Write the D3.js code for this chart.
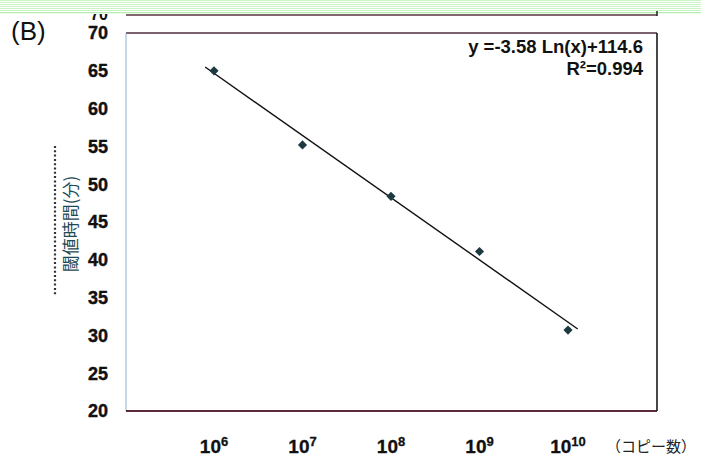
<!DOCTYPE html>
<html><head><meta charset="utf-8">
<script src="https://cdn.jsdelivr.net/npm/d3@7/dist/d3.min.js"></script>
<style>html,body{margin:0;padding:0;background:#fff;}svg{display:block;}</style>
</head><body>
<svg id="c" width="701" height="457"></svg>
<script>
const copyExponents = [6, 7, 8, 9, 10];
const thresholdTimes = [65.0, 55.2, 48.4, 41.1, 30.7];
const yTicks = [20, 25, 30, 35, 40, 45, 50, 55, 60, 65, 70];
const fitExponents = [5.9, 10.11];
const fitTimes = [65.5, 30.85];
const equationLines = ["y =-3.58 Ln(x)+114.6", "R²=0.994"];
const yTitle = "閾値時間(分)";
const xUnit = "（コピー数）";

const svg = d3.select("#c");
const x = d3.scaleLog().domain([1e6, 1e10]).range([214, 568]);
const y = d3.scaleLinear().domain([20, 70]).range([411, 33]);
const L = 126, R = 657;
const sans = "Liberation Sans, Arial, sans-serif";

// partial label of panel above
svg.append("text").attr("x", 108).attr("y", 20).attr("text-anchor", "end")
  .attr("font-family", sans).attr("font-weight", "bold")
  .attr("font-size", 16).attr("fill", "#111").text("70");
// top stripes (remnant of upper panel)
const stripeG = svg.append("g");
stripeG.append("rect").attr("x", 0).attr("y", 0).attr("width", 701).attr("height", 14).attr("fill", "#fff");
d3.range(0, 13, 2).forEach(s => {
  stripeG.append("rect").attr("x", 0).attr("y", s).attr("width", 701).attr("height", 1).attr("fill", "#c9f5c4");
});
stripeG.append("rect").attr("x", 0).attr("y", 12).attr("width", 701).attr("height", 1.2).attr("fill", "#b5efb0");
// bottom line of upper panel
svg.append("line").attr("x1", L).attr("x2", R).attr("y1", 15).attr("y2", 15)
  .attr("stroke", "#5a3440").attr("stroke-width", 1.6);
svg.append("line").attr("x1", R).attr("x2", R).attr("y1", 11).attr("y2", 16)
  .attr("stroke", "#222").attr("stroke-width", 1.5);

// frame
svg.append("line").attr("x1", L).attr("x2", R).attr("y1", y(70)).attr("y2", y(70))
  .attr("stroke", "#4d2c3c").attr("stroke-width", 1.6);
svg.append("line").attr("x1", L).attr("x2", L).attr("y1", y(70)).attr("y2", y(20))
  .attr("stroke", "#8fb3cf").attr("stroke-width", 1);
svg.append("line").attr("x1", L).attr("x2", R).attr("y1", y(20)).attr("y2", y(20))
  .attr("stroke", "#5a2c3a").attr("stroke-width", 2);
svg.append("line").attr("x1", R).attr("x2", R).attr("y1", y(70)).attr("y2", y(20))
  .attr("stroke", "#1a1a1a").attr("stroke-width", 1.6);

// y tick labels
svg.append("g").selectAll("text").data(yTicks).join("text")
  .attr("x", 108).attr("y", d => y(d)).attr("dy", "0.36em").attr("text-anchor", "end")
  .attr("font-family", sans).attr("font-weight", "bold")
  .attr("font-size", 18).attr("fill", "#111")
  .attr("stroke", "#111").attr("stroke-width", 0.4).text(d => d);

// x tick labels with superscripts
const xt = svg.append("g").selectAll("text").data(copyExponents).join("text")
  .attr("x", d => x(Math.pow(10, d))).attr("y", 453).attr("text-anchor", "middle")
  .attr("font-family", sans).attr("font-weight", "bold")
  .attr("font-size", 19).attr("fill", "#111")
  .attr("stroke", "#111").attr("stroke-width", 0.3);
xt.append("tspan").text("10");
xt.append("tspan").attr("font-size", 13).attr("dy", -7).text(d => d);

svg.append("text").attr("x", 606).attr("y", 452)
  .attr("font-family", "Noto Sans CJK JP, sans-serif").attr("font-size", 15)
  .attr("fill", "#222").text(xUnit);

// (B)
svg.append("text").attr("x", 11).attr("y", 40)
  .attr("font-family", sans).attr("font-size", 26)
  .attr("fill", "#111").text("(B)");

// y title + dotted line
svg.append("line").attr("x1", 55).attr("x2", 55).attr("y1", 146).attr("y2", 296)
  .attr("stroke", "#333").attr("stroke-width", 2.2).attr("stroke-dasharray", "2,2.3");
svg.append("text").attr("transform", "translate(77,224) rotate(-90)")
  .attr("text-anchor", "middle").attr("font-family", "Noto Sans CJK JP, sans-serif")
  .attr("font-size", 17).attr("fill", "#1d4a55").text(yTitle);

// fit line
svg.append("line")
  .attr("x1", x(Math.pow(10, fitExponents[0]))).attr("y1", y(fitTimes[0]))
  .attr("x2", x(Math.pow(10, fitExponents[1]))).attr("y2", y(fitTimes[1]))
  .attr("stroke", "#111").attr("stroke-width", 1.4);

// points
svg.append("g").selectAll("path").data(copyExponents).join("path")
  .attr("d", d3.symbol().type(d3.symbolSquare).size(42))
  .attr("transform", (d, i) => `translate(${x(Math.pow(10, d))},${y(thresholdTimes[i])}) rotate(45)`)
  .attr("fill", "#1d3a40");

// equation
svg.append("g").selectAll("text").data(equationLines).join("text")
  .attr("x", 643).attr("y", (d, i) => 53 + i * 22).attr("text-anchor", "end")
  .attr("font-family", sans).attr("font-weight", "bold")
  .attr("font-size", 18.5).attr("fill", "#111").text(d => d);
</script>
</body></html>
